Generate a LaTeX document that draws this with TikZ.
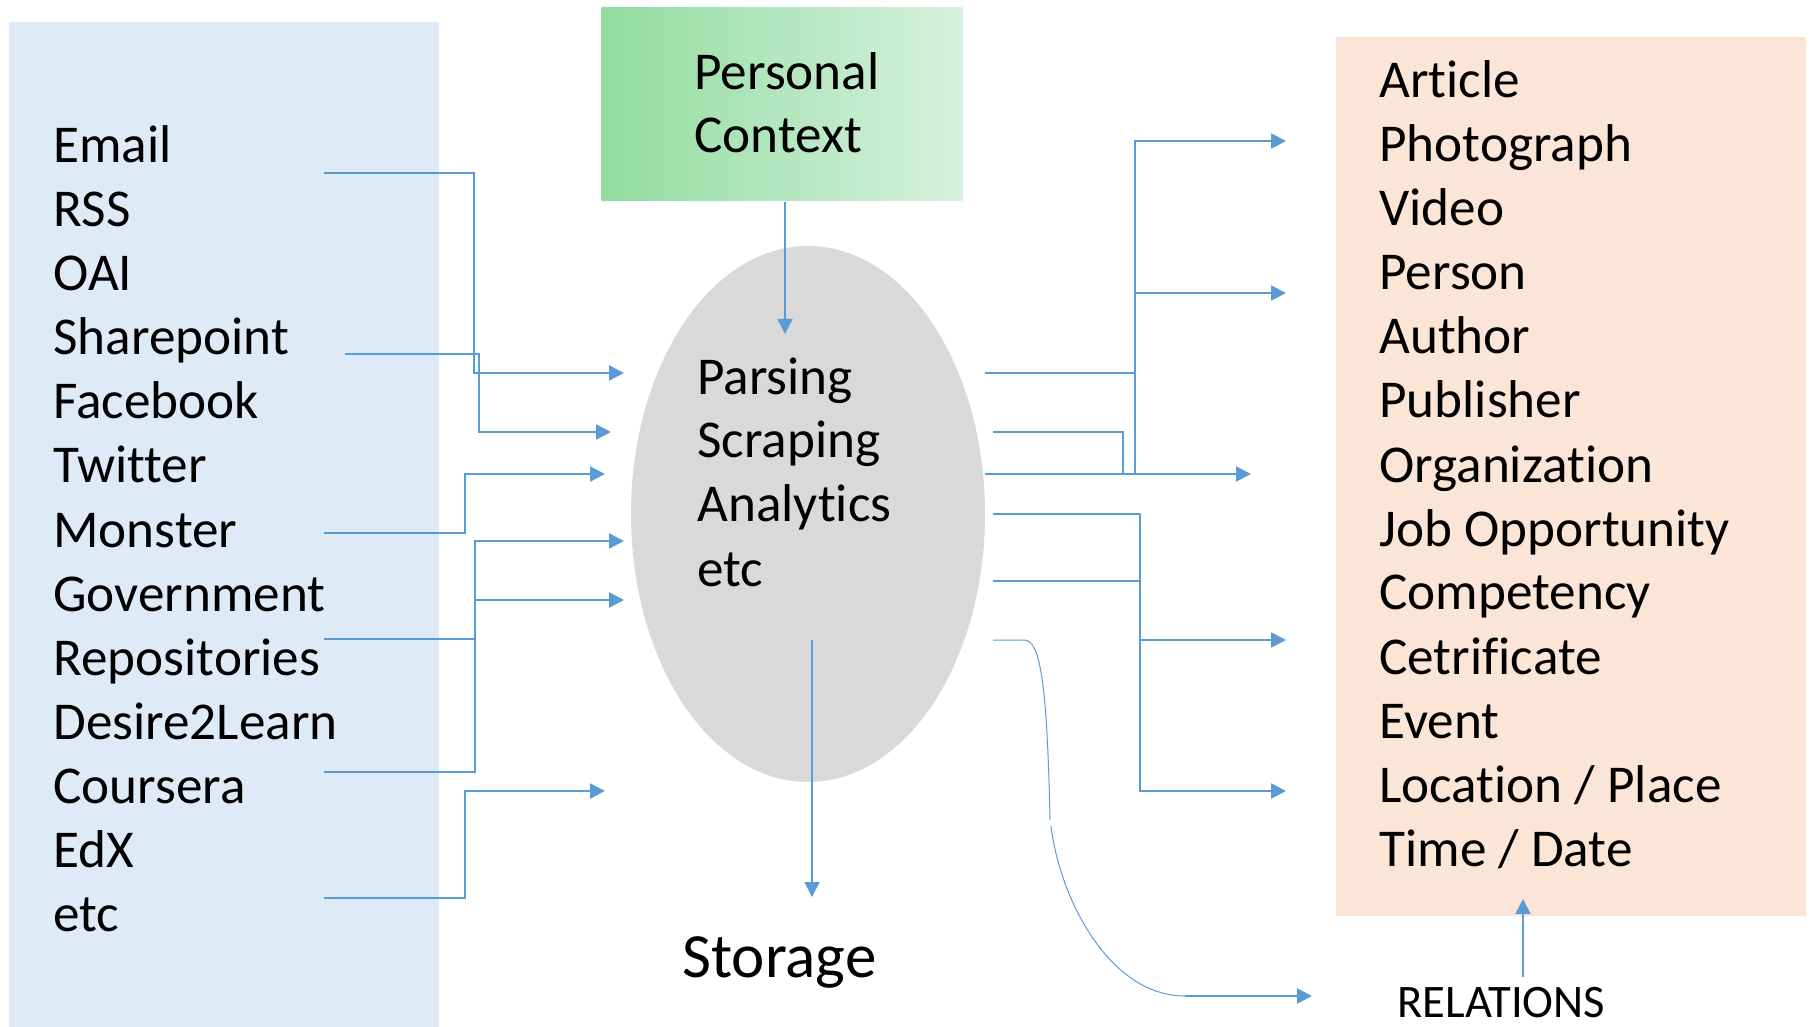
\documentclass[tikz,border=0pt]{standalone}
\usepackage{fontspec}
\setmainfont[Ligatures={NoCommon,NoContextual,NoRare},Contextuals=NoAlternate]{Carlito}
\usetikzlibrary{arrows.meta,shapes.geometric}
\definecolor{srcblue}{HTML}{DEEBF7}
\definecolor{outorange}{HTML}{FBE5D6}
\definecolor{procgrey}{HTML}{D9D9D9}
\definecolor{linkblue}{HTML}{5B9BD5}
\definecolor{ctxdark}{HTML}{92DCA0}
\definecolor{ctxlight}{HTML}{D6F1DD}
\begin{document}
\begin{tikzpicture}[x=0.5pt,y=-0.5pt,
  item/.style={anchor=base west, inner sep=0pt, font=\fontsize{26.6}{32}\selectfont},
  bgbox/.style={rectangle, inner sep=0pt, anchor=north west, draw=none},
  thicklink/.style={draw=linkblue, line width=1.2pt},
  thinlink/.style={draw=linkblue, line width=0.8pt},
  hairlink/.style={draw=linkblue, line width=0.5pt},
  tip/.style={-{Triangle[length=7.5pt,width=7.5pt]}},
]
\useasboundingbox (0,0) rectangle (1812,1027);

% background boxes
\node[bgbox, fill=srcblue, minimum width=215pt, minimum height=502.5pt] (srcbox) at (9,22) {};
\node[bgbox, left color=ctxdark, right color=ctxlight, minimum width=180.5pt, minimum height=96.5pt] (ctxbox) at (601,7) {};
\node[bgbox, fill=outorange, minimum width=235pt, minimum height=439.5pt] (outbox) at (1336,37) {};
\node[ellipse, fill=procgrey, inner sep=0pt, minimum width=177pt, minimum height=268pt] (proc) at (808,514) {};

% left list
\foreach \t [count=\i from 0] in {Email,RSS,OAI,Sharepoint,Facebook,Twitter,Monster,Government,Repositories,Desire2Learn,Coursera,EdX,etc}
  \node[item] (src\i) at (53,{163+64*\i}) {\t};

% right list
\foreach \t [count=\i from 0] in {Article,Photograph,Video,Person,Author,Publisher,Organization,Job Opportunity,Competency,Cetrificate,Event,Location / Place,Time / Date}
  \node[item] (out\i) at (1379,{98+64*\i}) {\t};

% context
\node[item] (ctx1) at (694,90) {Personal};
\node[item] (ctx2) at (694,153) {Context};

% process text
\node[item] (p1) at (697,395) {Parsing};
\node[item] (p2) at (697,458) {Scraping};
\node[item] (p3) at (697,522) {Analytics};
\node[item] (p4) at (697,586) {etc};

\node[anchor=base west, inner sep=0pt, font=\fontsize{31.5}{37}\selectfont] (storage) at (682,977) {Storage};
\node[anchor=base west, inner sep=0pt, font=\fontsize{23.3}{28}\selectfont] (relations) at (1397,1017) {RELATIONS};

% coordinates for connector ends
\coordinate (sEmail) at (324,173);   \coordinate (tEmail) at (624,373);
\coordinate (sShare) at (345,354);   \coordinate (tShare) at (611,432);
\coordinate (sMon)   at (324,533);   \coordinate (tMon)   at (605,474);
\coordinate (sRepo)  at (324,639);   \coordinate (jRepo)  at (475,639);
\coordinate (sCour)  at (324,772);   \coordinate (tCour1) at (624,541);
\coordinate (jCour)  at (475,600);   \coordinate (tCour2) at (624,600);
\coordinate (sEtc)   at (324,898);   \coordinate (tEtc)   at (605,791);

\coordinate (oA) at (985,373);  \coordinate (jA) at (1135,373);
\coordinate (jAbot) at (1135,474); \coordinate (jAtop) at (1135,141);
\coordinate (jAmid) at (1135,293);
\coordinate (tArt) at (1286,141); \coordinate (tPer) at (1286,293);
\coordinate (oB) at (993,432);  \coordinate (jB) at (1123,474);
\coordinate (oC) at (985,474);  \coordinate (tC) at (1251,474);
\coordinate (oD) at (993,514);  \coordinate (jD) at (1140,514);
\coordinate (oE) at (993,581);  \coordinate (jE) at (1140,581);
\coordinate (jF) at (1140,640); \coordinate (tCet) at (1286,640);
\coordinate (tLoc) at (1286,791);
\coordinate (oG) at (993,640);  \coordinate (cG1) at (1024,640);
\coordinate (cG2) at (1050,820); \coordinate (cG3) at (1051,826);
\coordinate (cG4) at (1185,996); \coordinate (tRel) at (1312,996);

\coordinate (sCtx) at (785,202); \coordinate (tCtx) at (785,334);
\coordinate (sSto) at (812,640); \coordinate (tSto) at (812,897);
\coordinate (sRelUp) at (1523,977); \coordinate (tRelUp) at (1523,899);

% left connectors
\draw[thicklink, tip] (sEmail) -- ++(150,0) |- (tEmail);
\draw[thicklink, tip] (sShare) -- ++(134,0) |- (tShare);
\draw[thicklink, tip] (sMon) -- ++(141,0) |- (tMon);
\draw[thicklink] (sRepo) -- (jRepo);
\draw[thicklink, tip] (sCour) -- ++(151,0) |- (tCour1);
\draw[thicklink, tip] (jCour) -- (tCour2);
\draw[thicklink, tip] (sEtc) -- ++(141,0) |- (tEtc);

% right connectors
\draw[thicklink, tip] (oA) -| (jAtop) -- (tArt);
\draw[thicklink] (jA) -- (jAbot);
\draw[thicklink, tip] (jAmid) -- (tPer);
\draw[thicklink] (oB) -| (jB);
\draw[thicklink, tip] (oC) -- (tC);
\draw[thicklink] (oD) -- (jD);
\draw[thicklink] (oE) -- (jE);
\draw[thicklink, tip] (jD) |- (tLoc);
\draw[thicklink, tip] (jF) -- (tCet);

% curved relation connector
\draw[hairlink] (oG) -- (cG1) .. controls (1040,640) and (1047,680) .. (cG2);
\draw[hairlink] (cG3) .. controls (1060,900) and (1110,996) .. (cG4);
\draw[thicklink, tip] (cG4) -- (tRel);

% vertical thin arrows
\draw[thinlink, tip] (sCtx) -- (tCtx);
\draw[thinlink, tip] (sSto) -- (tSto);
\draw[thinlink, tip] (sRelUp) -- (tRelUp);
\end{tikzpicture}
\end{document}
